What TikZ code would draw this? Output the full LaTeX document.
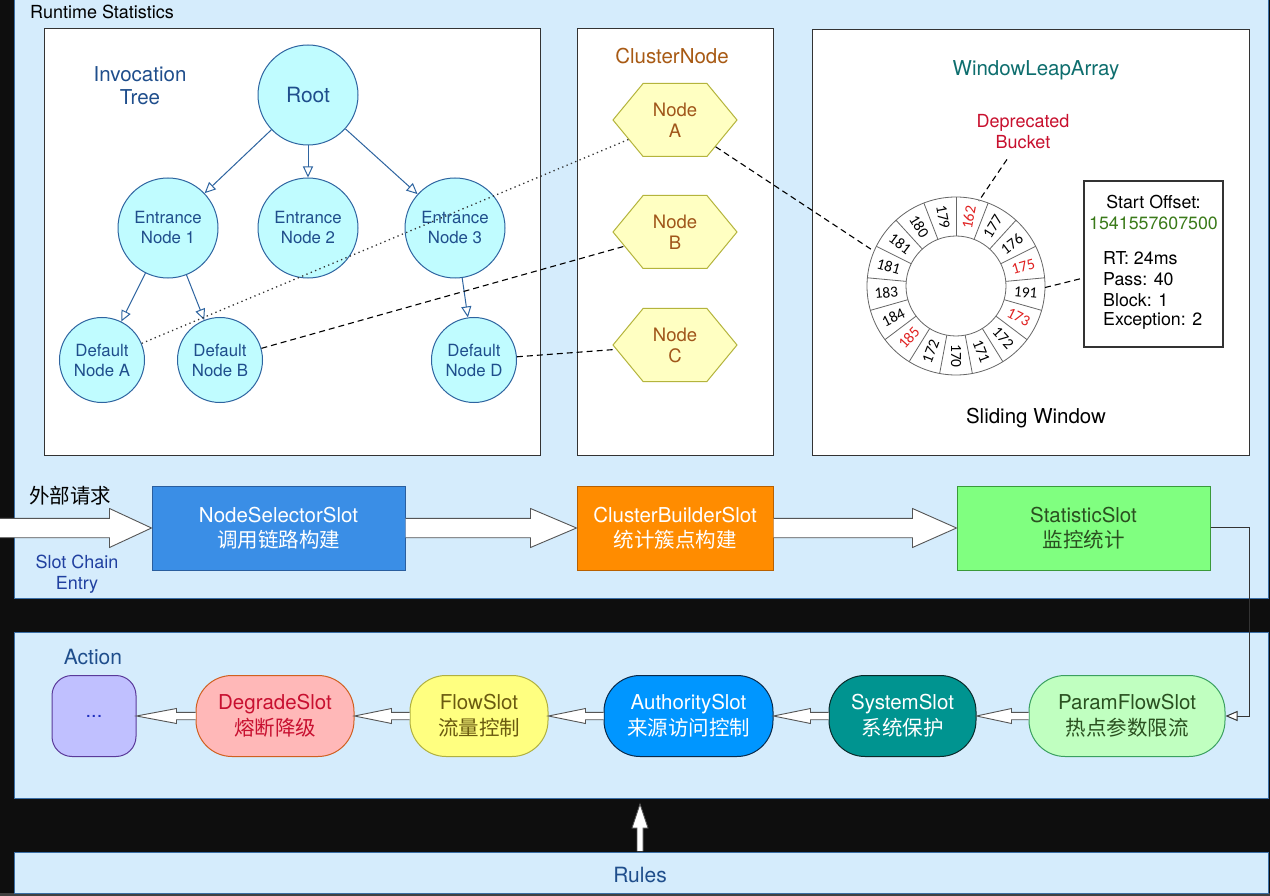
\documentclass[tikz,border=0pt]{standalone}
\usepackage{fontspec}
\setmainfont{TeX Gyre Heros}
\newfontfamily\cjk{Noto Sans CJK SC}
\newfontfamily\numfont{Carlito}
\usetikzlibrary{arrows.meta,shapes.symbols,calc}

\definecolor{bgblack}{HTML}{0E0E0E}
\definecolor{panelblue}{HTML}{D5ECFC}
\definecolor{panelline}{HTML}{3A6EA5}
\definecolor{boxline}{HTML}{333333}
\definecolor{cyanfill}{HTML}{C0FCFF}
\definecolor{treeline}{HTML}{2E64A0}
\definecolor{treetext}{HTML}{1F4E8C}
\definecolor{hexfill}{HTML}{FFFFC2}
\definecolor{hexline}{HTML}{B4B43C}
\definecolor{hextext}{HTML}{A0561A}
\definecolor{clustertitle}{HTML}{A85A14}
\definecolor{wlatitle}{HTML}{0E6E6E}
\definecolor{deprred}{HTML}{C8102E}
\definecolor{ringred}{HTML}{E02020}
\definecolor{ringgray}{HTML}{666666}
\definecolor{offgreen}{HTML}{3A7A1A}
\definecolor{entryblue}{HTML}{2040A0}
\definecolor{nssfill}{HTML}{3A8EE6}
\definecolor{nssline}{HTML}{2A5E9E}
\definecolor{cbsfill}{HTML}{FF8C00}
\definecolor{cbsline}{HTML}{B86000}
\definecolor{statfill}{HTML}{80FF80}
\definecolor{statline}{HTML}{3A9A3A}
\definecolor{stattext}{HTML}{2A5020}
\definecolor{pfsfill}{HTML}{C0FFC0}
\definecolor{pfsline}{HTML}{3AA060}
\definecolor{sysfill}{HTML}{009490}
\definecolor{sysline}{HTML}{0A2A2A}
\definecolor{authfill}{HTML}{0096FF}
\definecolor{authline}{HTML}{0A2A4A}
\definecolor{flowfill}{HTML}{FFFF80}
\definecolor{flowline}{HTML}{B0B040}
\definecolor{flowtext}{HTML}{6A5A10}
\definecolor{degfill}{HTML}{FFB8B8}
\definecolor{degline}{HTML}{D06020}
\definecolor{degtext}{HTML}{C81030}
\definecolor{dotsfill}{HTML}{C0C0FF}
\definecolor{dotsline}{HTML}{5A3A9A}
\definecolor{dotstext}{HTML}{2030C0}
\definecolor{arrline}{HTML}{555555}

\newcommand\myRarrow[5]{%
  \filldraw[blk] ([shift={(0,-#5)}]#1.east) -- ([shift={(-#3,-#5)}]#2.west) -- ([shift={(-#3,-#4)}]#2.west) -- (#2.west) -- ([shift={(-#3,#4)}]#2.west) -- ([shift={(-#3,#5)}]#2.west) -- ([shift={(0,#5)}]#1.east);}
\newcommand\myLarrow[5]{%
  \filldraw[blk] ([shift={(0,-#5)}]#1.west) -- ([shift={(#3,-#5)}]#2.east) -- ([shift={(#3,-#4)}]#2.east) -- (#2.east) -- ([shift={(#3,#4)}]#2.east) -- ([shift={(#3,#5)}]#2.east) -- ([shift={(0,#5)}]#1.west);}

\begin{document}
\begin{tikzpicture}[x=1pt,y=-1pt,
  panelst/.style={rectangle, fill=panelblue, draw=panelline, line width=1pt, anchor=north west, inner sep=0pt},
  wbox/.style={rectangle, fill=white, draw=boxline, line width=1.2pt, anchor=north west, inner sep=0pt},
  tnode/.style={circle, fill=cyanfill, draw=treeline, line width=1pt, inner sep=0pt, align=center, text=treetext, font=\fontsize{16.8}{20}\selectfont},
  tarrow/.style={draw=treeline, line width=1pt, -{Triangle[length=11pt,width=10pt,fill=white]}},
  hexa/.style={shape=signal, signal to=east and west, signal pointer angle=101, fill=hexfill, draw=hexline, line width=1pt, minimum width=124pt, minimum height=73pt, inner sep=0pt, align=center, text=hextext, font=\fontsize{18.5}{21}\selectfont},
  dashc/.style={draw=black, line width=1.1pt, dash pattern=on 6pt off 4pt},
  dotc/.style={draw=boxline, line width=1.3pt, dash pattern=on 1.3pt off 3.4pt},
  ringline/.style={draw=ringgray, line width=0.8pt},
  ringnum/.style={font=\numfont\fontsize{15.5}{15.5}\selectfont, inner sep=0pt},
  lbl/.style={inner sep=0pt, align=center},
  slot/.style={rectangle, minimum height=84pt, align=center, line width=1pt, font=\fontsize{20.5}{25}\selectfont},
  capsule/.style={rectangle, rounded corners=36pt, minimum height=81pt, align=center, line width=1pt, font=\fontsize{20.5}{26}\selectfont},
  blk/.style={fill=white, draw=arrline, line width=0.9pt, line join=miter},
]
\useasboundingbox (0,0) rectangle (1270,896);
\fill[bgblack] (0,0) rectangle (1270,896);
\fill[black!75] (0,893) rectangle (1270,896);

% panels
\node[panelst, minimum width=1253.5pt, minimum height=600pt] (toppanel) at (14,-2) {};
\node[panelst, minimum width=1253.5pt, minimum height=166pt] (midpanel) at (14,632) {};
\node[panelst, minimum width=1253.5pt, minimum height=41pt] (rulespanel) at (14,852) {};

\node[lbl, anchor=west, font=\fontsize{18}{21}\selectfont] (rtstat) at (30,12) {Runtime Statistics};

% white boxes
\node[wbox, minimum width=496pt, minimum height=427pt] (treebox) at (44,28) {};
\node[wbox, minimum width=196pt, minimum height=427pt] (clbox) at (577,28) {};
\node[wbox, minimum width=437pt, minimum height=426pt] (wlabox) at (812,29) {};

% invocation tree
\node[lbl, text=treetext, font=\fontsize{20.5}{23}\selectfont] (invt) at (140,86) {Invocation\\Tree};
\node[tnode, minimum size=100pt, font=\fontsize{21}{24}\selectfont] (root) at (308,95) {Root};
\node[tnode, minimum size=100pt] (en1) at (168,228) {Entrance\\Node 1};
\node[tnode, minimum size=100pt] (en2) at (308,228) {Entrance\\Node 2};
\node[tnode, minimum size=100pt] (en3) at (455,228) {Entrance\\Node 3};
\node[tnode, minimum size=85pt] (dna) at (102,360) {Default\\Node A};
\node[tnode, minimum size=85pt] (dnb) at (220,360) {Default\\Node B};
\node[tnode, minimum size=85pt] (dnd) at (474,360) {Default\\Node D};
\draw[tarrow] (root) -- (en1);
\draw[tarrow] (root) -- (en2);
\draw[tarrow] (root) -- (en3);
\draw[tarrow] (en1) -- (dna);
\draw[tarrow] (en1) -- (dnb);
\draw[tarrow] (en3) -- (dnd);

% cluster nodes
\node[lbl, text=clustertitle, font=\fontsize{20.5}{24}\selectfont] (cltitle) at (672,56) {ClusterNode};
\node[hexa] (ca) at (675,120) {Node\\A};
\node[hexa] (cb) at (675,232) {Node\\B};
\node[hexa] (cc) at (675,345) {Node\\C};

\draw[dotc] (dna) -- (ca);
\draw[dashc] (dnb) -- (cb);
\draw[dashc] (dnd) -- (cc);

% window leap array
\node[lbl, text=wlatitle, font=\fontsize{20.5}{24}\selectfont] (wlatitle) at (1036,70) {WindowLeapArray};
\node[lbl, text=deprred, font=\fontsize{18}{21}\selectfont] (dep) at (1023,132) {Deprecated\\Bucket};
\node[lbl, font=\fontsize{20.5}{24}\selectfont] (slw) at (1036,418) {Sliding Window};

\coordinate (rc) at (956,286);
\draw[ringline] (rc) circle[radius=89];
\draw[ringline] (rc) circle[radius=50];
\foreach \k in {0,...,16} {
  \pgfmathsetmacro\pa{-(90-\k*360/17)}
  \draw[ringline] ($(rc)+(\pa:50)$) -- ($(rc)+(\pa:89)$);
}
\foreach \lab/\col [count=\k from 0] in {162/ringred,177/black,176/black,175/ringred,191/black,173/ringred,172/black,171/black,170/black,172/black,185/ringred,184/black,183/black,181/black,181/black,180/black,179/black} {
  \pgfmathsetmacro\ang{90-360/17*(\k+0.5)}
  \pgfmathsetmacro\rot{ifthenelse(cos(\ang)>=0,\ang,\ang+180)}
  \pgfmathsetmacro\pang{-\ang}
  \node[ringnum, text=\col, rotate=\rot] (rn\k) at ($(rc)+(\pang:70)$) {\lab};
}
\coordinate (ringA) at ($(rc)+(-157:89)$);
\coordinate (ringD) at ($(rc)+(-75:88)$);
\coordinate (ringR) at ($(rc)+(1:89)$);

\node[rectangle, draw=boxline, fill=white, line width=1.2pt, minimum width=139pt, minimum height=166pt, inner sep=0pt] (info) at (1153.5,264) {};
\node[lbl, font=\fontsize{17.8}{20}\selectfont] (i1) at (1153.5,202) {Start Offset:};
\node[lbl, text=offgreen, font=\fontsize{17.8}{20}\selectfont] (i2) at (1153.5,223) {1541557607500};
\node[lbl, anchor=west, font=\fontsize{17.8}{20}\selectfont] (i3) at (1103,258) {RT: 24ms};
\node[lbl, anchor=west, font=\fontsize{17.8}{20}\selectfont] (i4) at (1103,279) {Pass: 40};
\node[lbl, anchor=west, font=\fontsize{17.8}{20}\selectfont] (i5) at (1103,300) {Block: 1};
\node[lbl, anchor=west, font=\fontsize{17.8}{20}\selectfont] (i6) at (1103,321) {Exception: 2};

\draw[dashc] (ca) -- (ringA);
\draw[dashc] ([shift={(-16,10)}]dep.south) -- (ringD);
\draw[dashc] (ringR) -- ([shift={(0,14)}]info.west);

% slot chain row 1
\node[lbl, font=\cjk\fontsize{20.5}{24}\selectfont] (ext) at (70,496) {外部请求};
\node[lbl, text=entryblue, font=\fontsize{18}{21}\selectfont] (sce) at (77,574) {Slot Chain\\Entry};
\node[slot, minimum width=253pt, fill=nssfill, draw=nssline, text=white] (nss) at (278.5,528) {NodeSelectorSlot\\{\cjk 调用链路构建}};
\node[slot, minimum width=196pt, fill=cbsfill, draw=cbsline, text=white] (cbs) at (675,528) {ClusterBuilderSlot\\{\cjk 统计簇点构建}};
\node[slot, minimum width=253pt, fill=statfill, draw=statline, text=stattext] (stat) at (1083.5,528) {StatisticSlot\\{\cjk 监控统计}};
\coordinate (entry) at (-2,528);
\myRarrow{entry}{nss}{42}{19.5}{9.7}
\myRarrow{nss}{cbs}{46}{19.5}{9.7}
\myRarrow{cbs}{stat}{44}{19.5}{9.7}

% slot chain row 2
\node[lbl, text=treetext, font=\fontsize{21}{24}\selectfont] (action) at (93,657) {Action};
\node[capsule, minimum width=196pt, fill=pfsfill, draw=pfsline, text=stattext] (pfs) at (1127,716) {ParamFlowSlot\\{\cjk 热点参数限流}};
\node[capsule, minimum width=147pt, fill=sysfill, draw=sysline, text=white] (sys) at (902.5,716) {SystemSlot\\{\cjk 系统保护}};
\node[capsule, minimum width=169pt, fill=authfill, draw=authline, text=white] (auth) at (688.5,716) {AuthoritySlot\\{\cjk 来源访问控制}};
\node[capsule, minimum width=138pt, fill=flowfill, draw=flowline, text=flowtext] (flow) at (479,716) {FlowSlot\\{\cjk 流量控制}};
\node[capsule, minimum width=158pt, fill=degfill, draw=degline, text=degtext] (deg) at (275,716) {DegradeSlot\\{\cjk 熔断降级}};
\node[rectangle, rounded corners=20pt, minimum width=84pt, minimum height=81pt, fill=dotsfill, draw=dotsline, line width=1pt, text=dotstext, font=\fontsize{20}{22}\selectfont] (dots) at (94,716) {...};
\myLarrow{pfs}{sys}{35}{7.5}{3.7}
\myLarrow{sys}{auth}{37}{7.5}{3.7}
\myLarrow{auth}{flow}{37}{7.5}{3.7}
\myLarrow{flow}{deg}{37}{7.5}{3.7}
\myLarrow{deg}{dots}{40}{7.5}{3.7}

\coordinate (bend) at (1249,527);
\draw[draw=boxline, line width=1pt, -{Triangle[length=12pt,width=10pt,fill=white]}] (stat.east |- bend) -- (bend) |- (pfs.east);

% rules
\node[lbl, text=treetext, font=\fontsize{21}{24}\selectfont] (rules) at (640,875) {Rules};
\filldraw[blk] ([shift={(-3,-1)}]rulespanel.north -| rules) -- ([shift={(-3,-24)}]rulespanel.north -| rules) -- ([shift={(-8,-24)}]rulespanel.north -| rules) -- ([shift={(0,5)}]midpanel.south -| rules) -- ([shift={(8,-24)}]rulespanel.north -| rules) -- ([shift={(3,-24)}]rulespanel.north -| rules) -- ([shift={(3,-1)}]rulespanel.north -| rules);
\end{tikzpicture}
\end{document}
